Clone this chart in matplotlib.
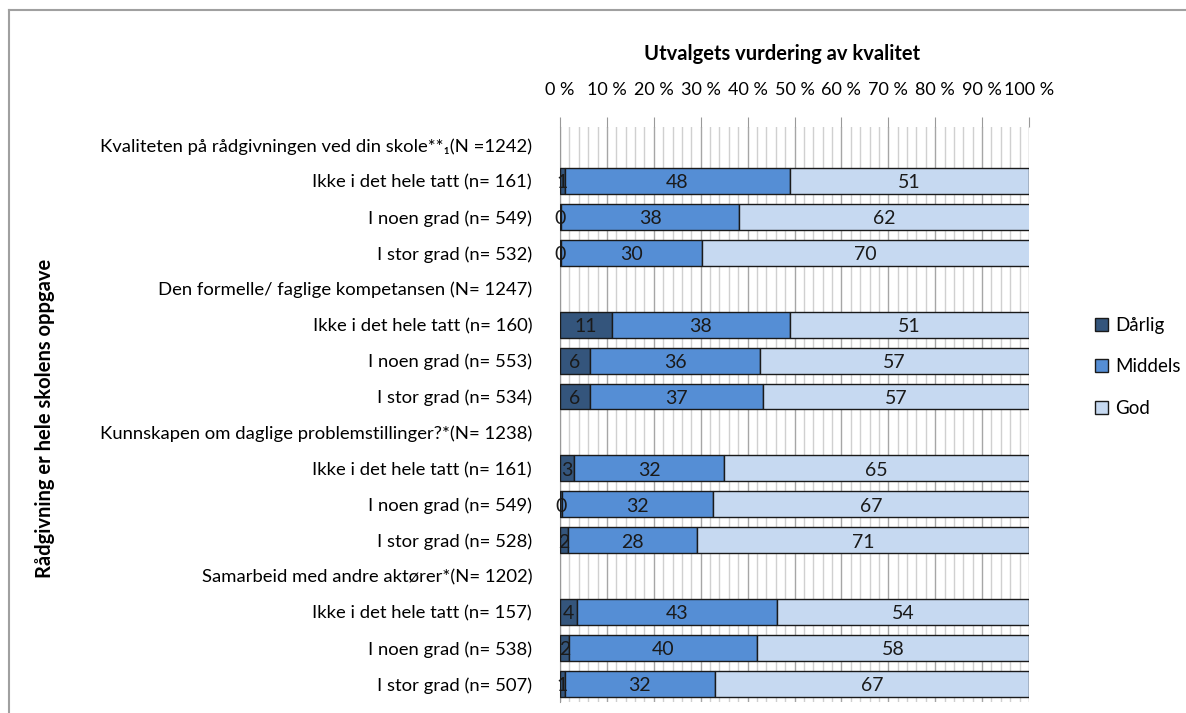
import numpy as np
import matplotlib.pyplot as plt
from matplotlib.ticker import MultipleLocator, FuncFormatter
from matplotlib.patches import Patch

plt.rcParams['font.family'] = ['Lato', 'DejaVu Sans']

headers = ["Kvaliteten på rådgivningen ved din skole**\u2081(N =1242)",
           "Den formelle/ faglige kompetansen (N= 1247)",
           "Kunnskapen om daglige problemstillinger?*(N= 1238)",
           "Samarbeid med andre aktører*(N= 1202)"]
sub_labels = [
    ["Ikke i det hele tatt (n= 161)", "I noen grad (n= 549)", "I stor grad (n= 532)"],
    ["Ikke i det hele tatt (n= 160)", "I noen grad (n= 553)", "I stor grad (n= 534)"],
    ["Ikke i det hele tatt (n= 161)", "I noen grad (n= 549)", "I stor grad (n= 528)"],
    ["Ikke i det hele tatt (n= 157)", "I noen grad (n= 538)", "I stor grad (n= 507)"],
]
# percentages (labels are rounded)
darlig = [[1, 0.2, 0.2], [11, 6.4, 6.3], [3, 0.4, 1.6], [3.6, 2, 1]]
middels = [[48, 38, 30], [38, 36.3, 36.9], [32, 32.3, 27.7], [42.6, 40, 32]]
god = [[51, 62, 70], [51, 57.3, 56.8], [65, 67.3, 70.7], [53.8, 58, 67]]

series_names = ["Dårlig", "Middels", "God"]
colors = ["#34557c", "#558ed5", "#c6d9f1"]

# build rows: header row (no bar) followed by its three sub rows
labels, vals = [], [[], [], []]
for g in range(len(headers)):
    labels.append(headers[g])
    for s in range(3):
        vals[s].append(np.nan)
    for i in range(3):
        labels.append(sub_labels[g][i])
        vals[0].append(darlig[g][i])
        vals[1].append(middels[g][i])
        vals[2].append(god[g][i])
vals = [np.array(v, dtype=float) for v in vals]
y = np.arange(len(labels))

fig = plt.figure(figsize=(11.86, 7.13), dpi=100)
ax = fig.add_axes([560/1186, 1-702/713, 469/1186, 575/713])

left = np.zeros(len(labels))
for s in range(3):
    bars = ax.barh(y, vals[s], left=left, height=0.72, color=colors[s],
                   edgecolor="#1a1a1a", linewidth=1, zorder=3)
    for yi, v, l in zip(y, vals[s], left):
        if np.isnan(v):
            continue
        ax.text(l + v/2, yi + 0.05, f"{v:.0f}", ha="center", va="center",
                fontsize=14, color="#1a1a1a", zorder=4)
    left = left + np.nan_to_num(vals[s])

ax.set_xlim(0, 100)
ax.set_ylim(len(labels) - 0.5, -0.5)
ax.xaxis.set_major_locator(MultipleLocator(10))
ax.xaxis.set_minor_locator(MultipleLocator(2))
ax.xaxis.set_major_formatter(FuncFormatter(lambda v, p: f"{v:.0f} %"))
ax.xaxis.tick_top()
ax.tick_params(axis="x", which="major", length=7, color="#999999",
               labelsize=13, pad=14)
ax.tick_params(axis="x", which="minor", length=0)
ax.grid(axis="x", which="major", color="#a6a6a6", linewidth=1, zorder=0)
ax.grid(axis="x", which="minor", color="#d0d0d0", linewidth=1, zorder=0)
ax.set_yticks(y)
ax.set_yticklabels(labels, fontsize=13.3)
ax.tick_params(axis="y", length=0, pad=20)
for side in ["top", "right", "bottom"]:
    ax.spines[side].set_visible(False)
ax.spines["left"].set_color("#999999")

fig.text(782/1186, 1-54/713, "Utvalgets vurdering av kvalitet", ha="center",
         va="center", fontsize=14.5, fontweight="bold")
fig.text(45/1186, 1-418/713, "Rådgivning er hele skolens oppgave", ha="center",
         va="center", rotation=90, fontsize=14.5, fontweight="bold")

handles = [Patch(facecolor=c, edgecolor="#1a1a1a", label=n)
           for c, n in zip(colors, series_names)]
fig.legend(handles=handles, loc="center left", bbox_to_anchor=(1078/1186, 1-367/713),
           frameon=False, fontsize=13.5, handlelength=0.7, handleheight=0.7,
           handletextpad=0.4, labelspacing=1.3)

# outer chart frame
fig.add_artist(plt.Line2D([9/1186, 9/1186], [0, 1-10/713], color="#a0a0a0",
                          linewidth=1.5, transform=fig.transFigure))
fig.add_artist(plt.Line2D([9/1186, 1], [1-10/713, 1-10/713], color="#a0a0a0",
                          linewidth=1.5, transform=fig.transFigure))

fig.savefig("out.png", dpi=100)
